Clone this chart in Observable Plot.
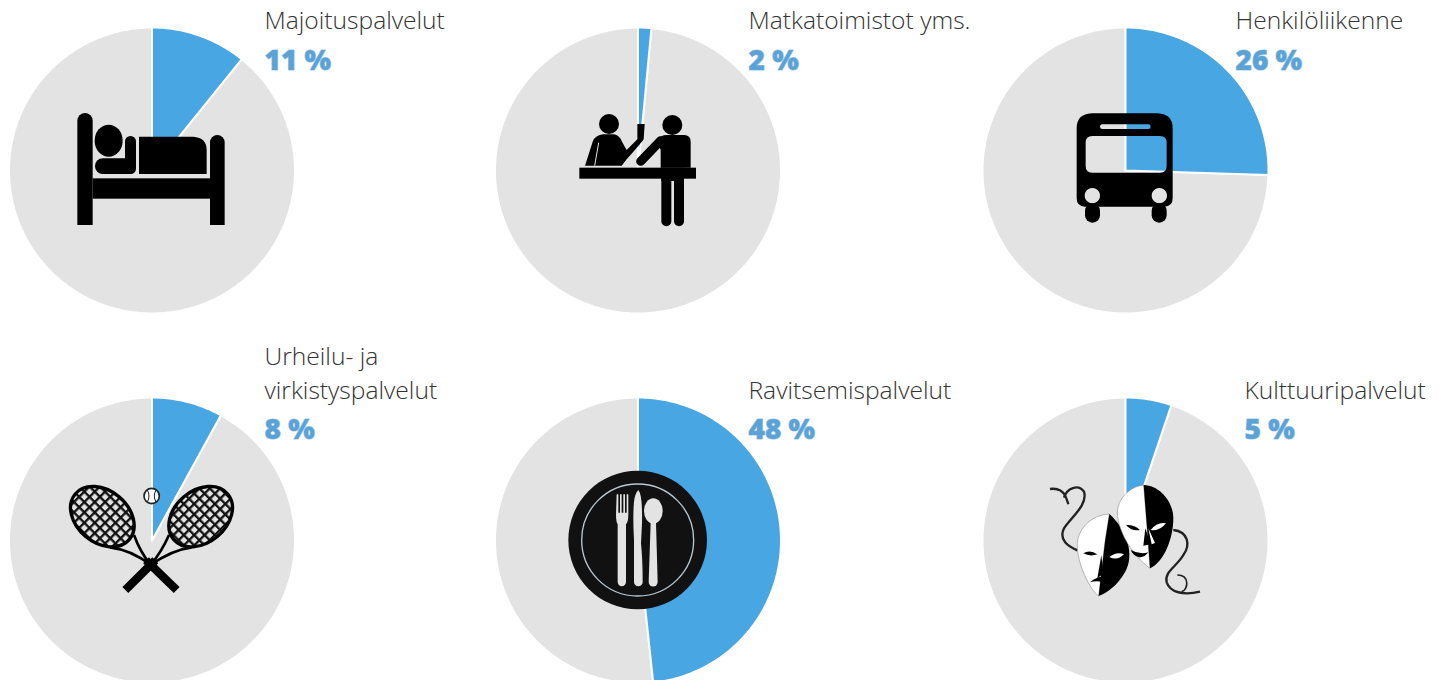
<!DOCTYPE html>
<html lang="fi">
<head>
<meta charset="utf-8">
<title>Palvelut</title>
<style>html,body{margin:0;padding:0;background:#fff;overflow:hidden}svg{display:block}</style>
<script src="https://cdn.jsdelivr.net/npm/d3@7"></script>
<script src="https://cdn.jsdelivr.net/npm/@observablehq/plot@0.6"></script>
</head>
<body>
<script>
// ---- data ----
const categories = ["Majoituspalvelut", "Matkatoimistot yms.", "Henkilöliikenne", "Urheilu- ja\nvirkistyspalvelut", "Ravitsemispalvelut", "Kulttuuripalvelut"];
const shareLabels = ["11 %", "2 %", "26 %", "8 %", "48 %", "5 %"];
const drawnShares = [10.8, 1.5, 25.5, 8, 48.3, 5.2];

// ---- layout ----
const W = 1439, H = 680, R = 143;
const centreX = [151.5, 637.5, 1125, 151.5, 637.5, 1125];
const centreY = [170, 170, 170, 540, 540, 540];
const labelX = [264, 748, 1235, 264, 748, 1244];
const nameY = [28, 28, 28, 398, 398, 398];
const shareY = [69, 69, 69, 438, 438, 438];
const GREY = "#e3e3e3", BLUE = "#48a6e2", INK = "#333333", SHARE = "#5ba3d6";

// every slice is a polygon traced from d3.pie angles of its own share
const pie = d3.pie().sort(null);
function slicePoints(i, part) {
  const a = pie([drawnShares[i], 100 - drawnShares[i]])[part];
  const n = Math.max(2, Math.ceil((a.endAngle - a.startAngle) * 180 / Math.PI));
  const pts = [{id: i, x: centreX[i], y: centreY[i]}];
  for (let k = 0; k <= n; ++k) {
    const t = a.startAngle + (a.endAngle - a.startAngle) * k / n;
    pts.push({id: i, x: centreX[i] + R * Math.sin(t), y: centreY[i] - R * Math.cos(t)});
  }
  pts.push(pts[0]);
  return pts;
}
const greyPoints = categories.flatMap((_, i) => slicePoints(i, 1));
const bluePoints = categories.flatMap((_, i) => slicePoints(i, 0));
const rows = categories.map((name, i) => ({name, share: shareLabels[i], x: labelX[i], yn: nameY[i], ys: shareY[i]}));

// ---- pictograms (drawn at 3x, offset from the pie centre) ----
const pill = (x1, y1, x2, y2, w, c = "#000") => `<line x1="${x1}" y1="${y1}" x2="${x2}" y2="${y2}" stroke="${c}" stroke-width="${w}" stroke-linecap="round"/>`;
const icons = [
  {dx: -91.5, dy: -70, svg: `
    <path d="M52,62a23,23 0 0 1 46,0V375H52Z"/>
    <path d="M450,127a22,22 0 0 1 44,0V375H450Z"/>
    <rect x="98" y="235" width="352" height="61"/>
    <ellipse cx="146" cy="122" rx="42" ry="48"/>
    <rect x="105" y="175" width="123" height="47" rx="23"/>
    <rect x="195" y="108" width="33" height="114" rx="16"/>
    <path d="M237,110H400Q440,113 440,150V222H237Z"/>`},
  {dx: -67.5, dy: -70, svg: `
    <circle cx="117" cy="72" r="30"/><circle cx="307" cy="75" r="30"/>
    <path d="M45,197L68,125Q76,105 100,103H132Q148,105 156,125L170,150L202,118V72H224L221,118Q215,128 170,178L155,197Z"/>
    <path d="M86,128L74,197" stroke="${GREY}" stroke-width="3" fill="none"/>
    <rect x="28" y="203" width="350" height="33"/>
    ${pill(212, 184, 272, 122, 27)}
    <path d="M262,120Q272,105 290,105H345Q362,107 362,125V203H272V150Z"/>
    ${pill(289, 236, 289, 364, 30)}${pill(327, 236, 327, 364, 30)}
    <rect x="274" y="203" width="68" height="40"/>`},
  {dx: -65, dy: -70, svg: `
    <path fill-rule="evenodd" d="M95,40H293Q338,42 338,85V295Q338,320 313,320H75Q50,320 50,295V85Q50,42 95,40Z
      M127,73H265a7,7 0 0 1 0,14H127a7,7 0 0 1 0,-14Z
      M97,108H300Q320,108 320,128V198Q320,218 300,218H97Q77,218 77,198V128Q77,108 97,108Z
      M97,264a23,23 0 1 0 0.01,0Z M298,264a23,23 0 1 0 0.01,0Z"/>
    <rect x="75" y="310" width="45" height="58" rx="22"/><rect x="275" y="310" width="45" height="58" rx="22"/>`},
  {dx: -91.5, dy: -70, svg: `
    <defs>
      <pattern id="netL" patternUnits="userSpaceOnUse" width="22" height="22" patternTransform="rotate(5)">
        <rect width="7" height="22" fill="#111"/><rect width="22" height="7" fill="#111"/></pattern>
      <pattern id="netR" patternUnits="userSpaceOnUse" width="22" height="22" patternTransform="rotate(-5)">
        <rect width="7" height="22" fill="#111"/><rect width="22" height="7" fill="#111"/></pattern>
    </defs>
    <ellipse cx="127" cy="140" rx="106" ry="78" transform="rotate(40 127 140)" fill="url(#netL)" stroke="#000" stroke-width="10"/>
    <ellipse cx="422" cy="140" rx="106" ry="78" transform="rotate(-40 422 140)" fill="url(#netR)" stroke="#000" stroke-width="10"/>
    <path d="M150,232Q215,240 272,285M222,195Q240,245 272,285M395,232Q335,240 272,285M327,195Q305,245 272,285" fill="none" stroke="#000" stroke-width="8"/>
    <line x1="258" y1="271" x2="350" y2="360" stroke="#000" stroke-width="25"/>
    <line x1="286" y1="271" x2="196" y2="360" stroke="#000" stroke-width="25"/>
    <circle cx="275" cy="78" r="23" fill="#fff" stroke="#222" stroke-width="5"/>
    <path d="M262,60Q272,78 262,96M288,60Q278,78 288,96" fill="none" stroke="#222" stroke-width="3"/>`},
  {dx: -77.5, dy: -80, svg: `
    <circle cx="233" cy="240" r="208" fill="#111"/>
    <circle cx="233" cy="240" r="168" fill="none" stroke="#b9c8d2" stroke-width="4"/>
    <g fill="${GREY}">
      <path d="M170,103h5v55h5v-55h5v55h5v-55h5v55h5v-55h5v62Q205,185 198,193V366a12,12 0 0 1 -25,0V193Q168,185 168,165Z"/>
      <path d="M235,90Q248,105 246,190L243,250Q248,300 248,366a12,12 0 0 1 -26,0V240Q218,170 222,125Q225,100 235,90Z"/>
      <ellipse cx="280" cy="153" rx="28" ry="38"/>
      <path d="M272,188H288L293,366a13,13 0 0 1 -27,0Z"/>
    </g>`},
  {dx: -85, dy: -65, svg: `
    <path d="M30,42C55,38 72,50 78,68C82,78 84,84 85,88M72,68C80,40 115,25 132,50C145,90 90,130 72,160C55,195 85,215 112,226" fill="none" stroke="#222" stroke-width="7"/>
    <path d="M400,165C445,170 452,210 430,240C410,275 372,290 380,322C390,352 430,362 480,350" fill="none" stroke="#222" stroke-width="7"/>
    <path d="M412,300C450,300 445,345 425,350" fill="none" stroke="#222" stroke-width="5"/>
    <path d="M208,117C150,120 114,165 112,205C110,265 150,345 176,363L195,200Z" fill="#fff" stroke="#777" stroke-width="1.5"/>
    <path d="M208,117C262,165 285,240 255,292C232,332 200,355 176,363L195,200Z" fill="#000"/>
    <path d="M130,235Q150,222 172,238Q150,246 130,235Z" fill="#000"/>
    <path d="M208,246Q230,228 252,238Q232,258 208,246Z" fill="#fff"/>
    <path d="M184,240L172,310L190,296Z" fill="#000"/><path d="M150,322Q175,302 190,306L205,332Q180,312 150,322Z" fill="#000"/>
    <path d="M311,30C265,35 232,75 232,115C235,170 275,240 330,280L322,170Z" fill="#fff" stroke="#777" stroke-width="1.5"/>
    <path d="M311,30C360,32 400,80 400,130C400,190 372,262 330,280L322,170Z" fill="#000"/>
    <path d="M258,150Q282,148 300,165Q275,170 258,150Z" fill="#000"/>
    <path d="M332,165Q352,140 378,145Q358,170 332,165Z" fill="#fff"/>
    <path d="M272,225Q300,240 325,232Q312,250 295,246Q280,242 272,225Z" fill="#000"/>
    <path d="M316,160L310,212L332,208Z" fill="#000"/>
    <path d="M325,160L335,208L345,204Z" fill="#fff"/>`}
];

function pictograms(index, scales) {
  const g = d3.create("svg:g");
  icons.forEach((ic, i) => {
    g.append("g")
      .attr("transform", `translate(${scales.x(centreX[i] + ic.dx)},${scales.y(centreY[i] + ic.dy)}) scale(${1 / 3})`)
      .html(ic.svg);
  });
  return g.node();
}

const font = "'Open Sans', 'Noto Sans', sans-serif";
const chart = Plot.plot({
  width: W, height: H, margin: 0,
  style: {background: "#fff"},
  x: {domain: [0, W], range: [0, W], axis: null},
  y: {domain: [0, H], range: [0, H], axis: null},
  marks: [
    Plot.line(greyPoints, {x: "x", y: "y", z: "id", fill: GREY, stroke: "#fff", strokeWidth: 2}),
    Plot.line(bluePoints, {x: "x", y: "y", z: "id", fill: BLUE, stroke: "#fff", strokeWidth: 2}),
    pictograms,
    Plot.text(rows, {x: "x", y: "yn", text: "name", textAnchor: "start", lineAnchor: "bottom", lineHeight: 1.37,
      fontFamily: font, fontSize: 24.6, fontWeight: 300, fill: INK}),
    Plot.text(rows, {x: "x", y: "ys", text: "share", textAnchor: "start", lineAnchor: "bottom",
      fontFamily: font, fontSize: 28, fontWeight: 800, fill: SHARE, stroke: "#a9cfe8", strokeWidth: 1, paintOrder: "stroke"})
  ]
});
document.body.append(chart);
</script>
</body>
</html>
